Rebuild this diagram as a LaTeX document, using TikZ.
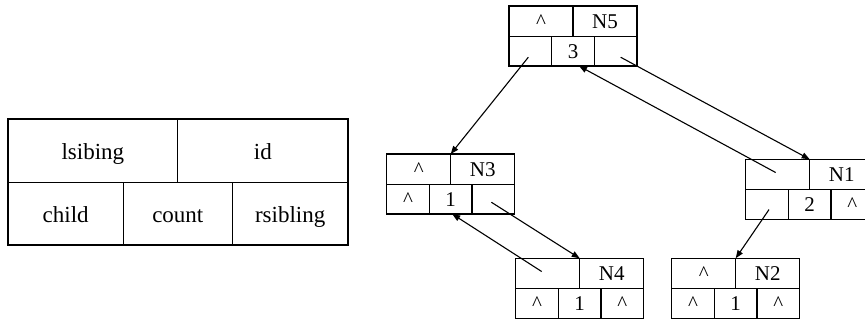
\documentclass[tikz,border=0pt]{standalone}
\usepackage{fontspec}
\setmainfont{Liberation Serif}
\usetikzlibrary{arrows.meta}

\tikzset{
  cell/.style={draw, line width=1.4pt, inner sep=0pt, outer sep=0pt,
    anchor=north west, text height=14pt, text depth=0pt,
    font=\fontsize{21}{25}\selectfont},
  topcell/.style={cell, minimum width=64pt, minimum height=30.5pt},
  botcell/.style={cell, minimum width=42.667pt, minimum height=29.5pt},
  tabcell/.style={cell, text height=16.5pt, font=\fontsize{23}{27}\selectfont},
  link/.style={line width=1.1pt, -{Triangle[length=8pt,width=6pt]}}
}

% one tree record: name, top-left x, top-left y, then the five field texts
\newcommand\recbox[8]{%
  \node[topcell] (#1-tl) at (#2,#3) {#4};
  \node[topcell] (#1-tr) at (#1-tl.north east) {#5};
  \node[botcell] (#1-b1) at (#1-tl.south west) {#6};
  \node[botcell] (#1-b2) at (#1-b1.north east) {#7};
  \node[botcell] (#1-b3) at (#1-b2.north east) {#8};
}
\newcommand\caret{\textasciicircum}

\begin{document}
\begin{tikzpicture}[x=1pt,y=-1pt]
  \useasboundingbox (0,0) rectangle (865,320);
  \clip (0,0) rectangle (865,320);

  % field layout of a record
  \node[tabcell, minimum width=169.7pt, minimum height=63.7pt] (lsib) at (8,119) {lsibing};
  \node[tabcell, minimum width=170.3pt, minimum height=63.7pt] (id) at (lsib.north east) {id};
  \node[tabcell, minimum width=115.3pt, minimum height=62.3pt] (child) at (lsib.south west) {child};
  \node[tabcell, minimum width=109pt, minimum height=62.3pt] (count) at (child.north east) {count};
  \node[tabcell, minimum width=115.7pt, minimum height=62.3pt] (rsib) at (count.north east) {rsibling};

  % tree records
  \recbox{n5}{509}{6}{\caret}{N5}{}{3}{}
  \recbox{n3}{386.7}{154}{\caret}{N3}{\caret}{1}{}
  \recbox{n4}{515.7}{258.3}{}{N4}{\caret}{1}{\caret}
  \recbox{n2}{671.7}{258.3}{\caret}{N2}{\caret}{1}{\caret}
  \recbox{n1}{745.7}{159.3}{}{N1}{}{2}{\caret}

  % child / sibling / parent links
  \draw[link] ([shift={(-2,6)}]n5-b1.center) -- (n3-tl.north east);
  \draw[link] ([shift={(5,6)}]n5-b3.center) -- (n1-tl.north east);
  \draw[link] ([shift={(-2,-2)}]n1-tl.center) -- ([xshift=6pt]n5-b2.south);
  \draw[link] ([shift={(-2,3)}]n3-b3.center) -- (n4-tl.north east);
  \draw[link] ([shift={(-6,-2)}]n4-tl.center) -- ([xshift=1.5pt]n3-b2.south);
  \draw[link] ([shift={(2,5)}]n1-b1.center) -- (n2-tl.north east);
\end{tikzpicture}
\end{document}
